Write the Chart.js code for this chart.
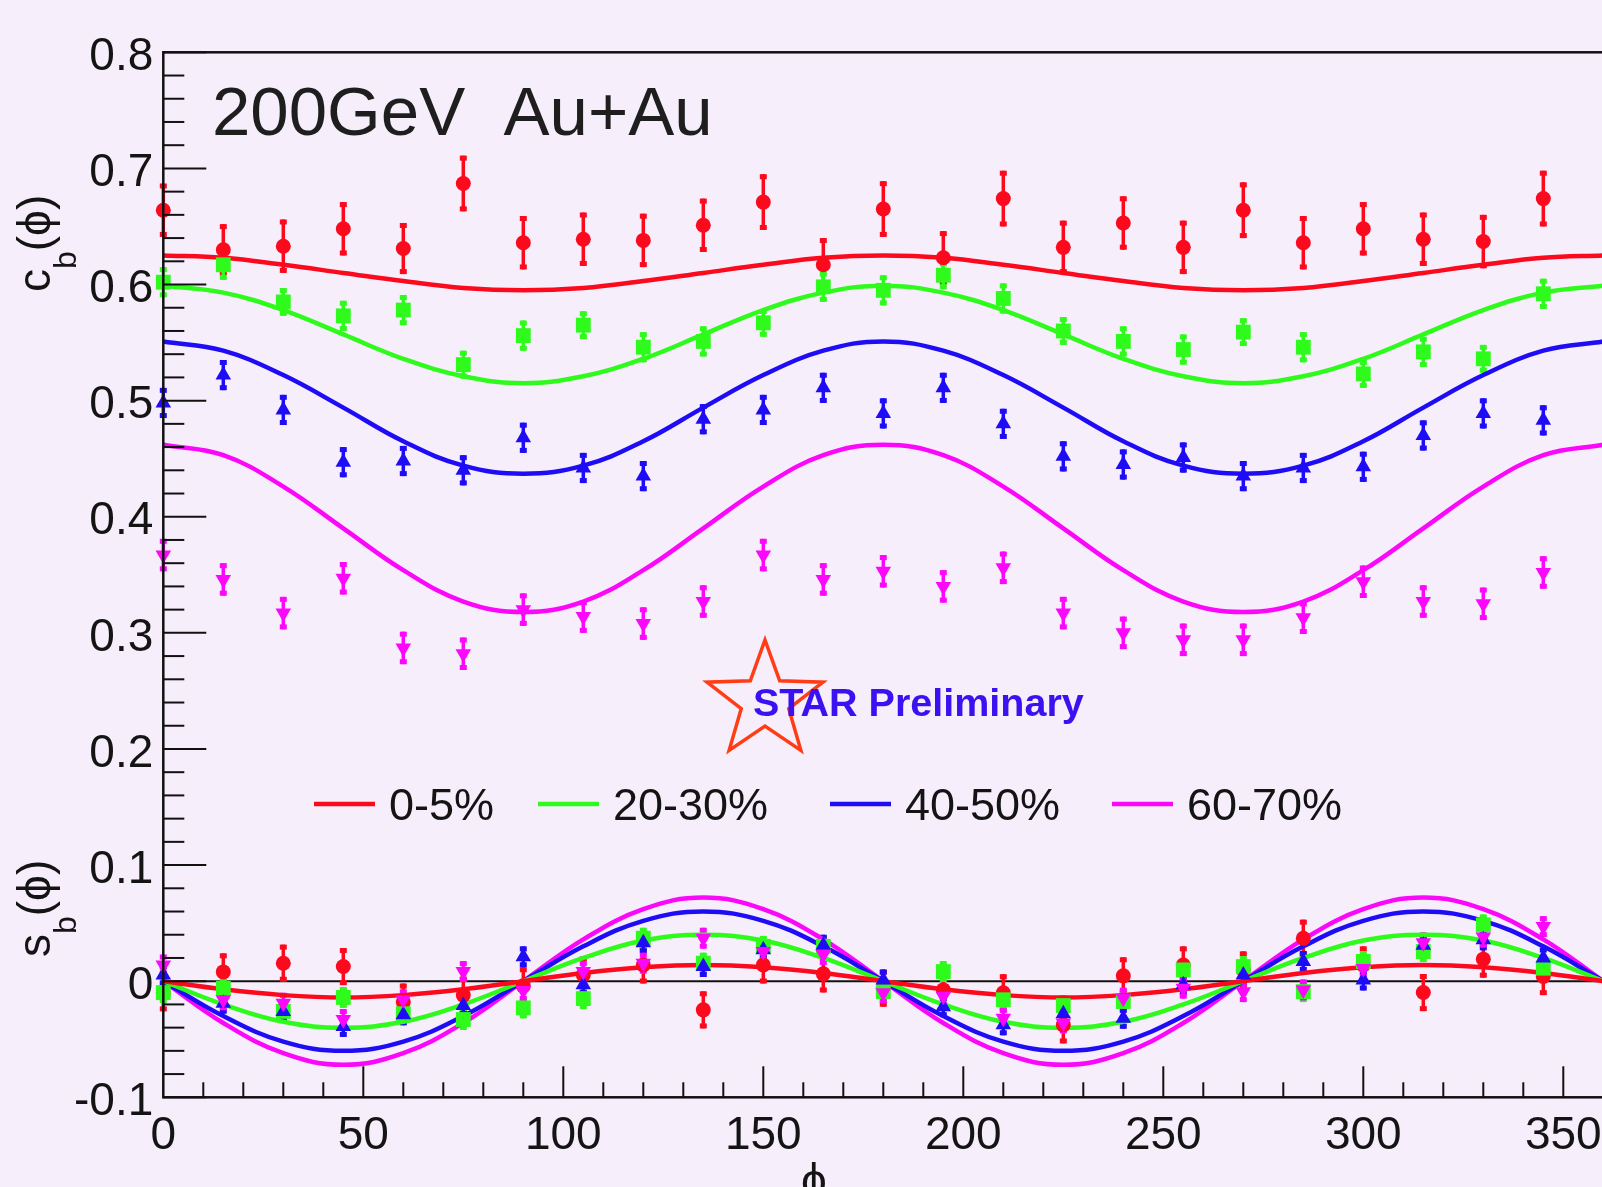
<!DOCTYPE html>
<html><head><meta charset="utf-8">
<script src="https://cdn.jsdelivr.net/npm/chart.js@4.4.1/dist/chart.umd.min.js"></script>
<style>
html,body{margin:0;padding:0;overflow:hidden;background:#f7eefc;}
#wrap{position:relative;width:1620px;height:1187px;}
</style></head><body>
<div id="wrap"><canvas id="c" width="1620" height="1187"></canvas></div>
<script>
// ---------- data ----------
const phi = [0,15,30,45,60,75,90,105,120,135,150,165,180,195,210,225,240,255,270,285,300,315,330,345];
const curvePhi = [0,15,30,45,60,75,90,105,120,135,150,165,180,195,210,225,240,255,270,285,300,315,330,345,360];
const centralities = ['0-5%','20-30%','40-50%','60-70%'];
const xTickValues = [0,50,100,150,200,250,300,350];
const yTickValues = [-0.1,0,0.1,0.2,0.3,0.4,0.5,0.6,0.7,0.8];
const yTickLabels = ['-0.1','0','0.1','0.2','0.3','0.4','0.5','0.6','0.7','0.8'];

const c05    = [0.664,0.630,0.633,0.648,0.631,0.687,0.636,0.639,0.638,0.651,0.671,0.617,0.665,0.623,0.674,0.632,0.653,0.632,0.664,0.636,0.648,0.639,0.637,0.674];
const c05Err = [0.023,0.022,0.023,0.023,0.022,0.024,0.023,0.023,0.023,0.023,0.024,0.023,0.024,0.023,0.024,0.023,0.023,0.023,0.024,0.023,0.023,0.023,0.023,0.024];
const c2030    = [0.602,0.617,0.585,0.573,0.578,0.531,0.556,0.565,0.546,0.551,0.567,0.598,0.595,0.608,0.588,0.560,0.551,0.544,0.559,0.546,0.523,0.542,0.536,0.592];
const c2030Err = [0.013,0.013,0.012,0.013,0.013,0.012,0.013,0.012,0.013,0.013,0.012,0.013,0.013,0.012,0.013,0.012,0.013,0.013,0.012,0.013,0.012,0.013,0.012,0.013];
const c4050    = [0.498,0.522,0.492,0.447,0.448,0.440,0.468,0.442,0.435,0.484,0.492,0.511,0.489,0.511,0.480,0.452,0.445,0.451,0.435,0.442,0.443,0.470,0.489,0.483];
const c4050Err = [0.013,0.013,0.013,0.013,0.013,0.013,0.013,0.013,0.013,0.013,0.013,0.013,0.013,0.013,0.013,0.013,0.013,0.013,0.013,0.013,0.013,0.013,0.013,0.013];
const c6070    = [0.367,0.346,0.317,0.347,0.287,0.282,0.320,0.314,0.308,0.327,0.367,0.346,0.353,0.340,0.356,0.317,0.300,0.294,0.294,0.313,0.344,0.327,0.325,0.352];
const c6070Err = [0.014,0.014,0.014,0.014,0.014,0.014,0.014,0.014,0.014,0.014,0.014,0.014,0.014,0.014,0.014,0.014,0.014,0.014,0.014,0.014,0.014,0.014,0.014,0.014];

const s05    = [-0.010,0.008,0.0155,0.0126,-0.018,-0.012,-0.004,0.0054,0.014,-0.0247,0.014,0.0063,-0.006,-0.0075,-0.010,-0.0376,0.0046,0.014,0.0097,0.037,0.014,-0.0098,0.019,0.004];
const s05Err = [0.016,0.016,0.016,0.016,0.016,0.016,0.016,0.016,0.016,0.016,0.016,0.016,0.016,0.016,0.016,0.016,0.016,0.016,0.016,0.016,0.016,0.016,0.016,0.016];
const s2030    = [-0.0098,-0.006,-0.026,-0.014,-0.028,-0.033,-0.023,-0.015,0.037,0.0155,0.030,0.030,-0.009,0.0083,-0.016,-0.021,-0.0175,0.0097,0.0126,-0.009,0.017,0.0255,0.0485,0.0112];
const s2030Err = [0.009,0.009,0.009,0.009,0.009,0.009,0.009,0.009,0.009,0.009,0.009,0.009,0.009,0.009,0.009,0.009,0.009,0.009,0.009,0.009,0.009,0.009,0.009,0.009];
const s4050    = [0.0054,-0.019,-0.026,-0.039,-0.029,-0.021,0.021,-0.003,0.033,0.0126,0.027,0.031,0.001,-0.022,-0.0376,-0.028,-0.032,-0.003,0.0054,0.017,0.001,0.031,0.0356,0.020];
const s4050Err = [0.009,0.009,0.009,0.009,0.009,0.009,0.009,0.009,0.009,0.009,0.009,0.009,0.009,0.009,0.009,0.009,0.009,0.009,0.009,0.009,0.009,0.009,0.009,0.009];
const s6070    = [0.014,-0.016,-0.019,-0.033,-0.016,0.0083,-0.008,0.0083,0.0155,0.037,0.0255,0.023,-0.010,-0.013,-0.032,-0.036,-0.0146,-0.006,-0.009,-0.0075,0.011,0.033,0.038,0.047];
const s6070Err = [0.009,0.009,0.009,0.009,0.009,0.009,0.009,0.009,0.009,0.009,0.009,0.009,0.009,0.009,0.009,0.009,0.009,0.009,0.009,0.009,0.009,0.009,0.009,0.009];

// fitted curves at every 15 degrees
const cFit05   = [0.625,0.623,0.617,0.610,0.603,0.597,0.595,0.597,0.603,0.610,0.617,0.623,0.625,0.623,0.617,0.610,0.603,0.597,0.595,0.597,0.603,0.610,0.617,0.623,0.625];
const cFit2030 = [0.599,0.593,0.578,0.557,0.536,0.521,0.515,0.521,0.536,0.557,0.578,0.593,0.599,0.593,0.578,0.557,0.536,0.521,0.515,0.521,0.536,0.557,0.578,0.593,0.599];
const cFit4050 = [0.551,0.543,0.522,0.494,0.465,0.444,0.437,0.444,0.465,0.494,0.522,0.543,0.551,0.543,0.522,0.494,0.465,0.444,0.437,0.444,0.465,0.494,0.522,0.543,0.551];
const cFit6070 = [0.462,0.453,0.426,0.390,0.354,0.327,0.318,0.327,0.354,0.390,0.426,0.453,0.462,0.453,0.426,0.390,0.354,0.327,0.318,0.327,0.354,0.390,0.426,0.453,0.462];
const sFit05   = [0,-0.007,-0.012,-0.014,-0.012,-0.007,0,0.007,0.012,0.014,0.012,0.007,0,-0.007,-0.012,-0.014,-0.012,-0.007,0,0.007,0.012,0.014,0.012,0.007,0];
const sFit2030 = [0,-0.020,-0.035,-0.040,-0.035,-0.020,0,0.020,0.035,0.040,0.035,0.020,0,-0.020,-0.035,-0.040,-0.035,-0.020,0,0.020,0.035,0.040,0.035,0.020,0];
const sFit4050 = [0,-0.030,-0.052,-0.060,-0.052,-0.030,0,0.030,0.052,0.060,0.052,0.030,0,-0.030,-0.052,-0.060,-0.052,-0.030,0,0.030,0.052,0.060,0.052,0.030,0];
const sFit6070 = [0,-0.036,-0.062,-0.072,-0.062,-0.036,0,0.036,0.062,0.072,0.062,0.036,0,-0.036,-0.062,-0.072,-0.062,-0.036,0,0.036,0.062,0.072,0.062,0.036,0];

const titleText = '200GeV  Au+Au';
const logoText = 'STAR Preliminary';

// ---------- styling ----------
const FONT = "'Liberation Sans', Arial, Helvetica, sans-serif";
const BG = '#f7eefc';
const TXT = '#141414';
const colors = ['#fb0a1e', '#2efb1c', '#1e0cf5', '#fb08fb'];
const markers = [
  {style:'circle', radius:7.5, rotation:0},
  {style:'rect', radius:10.5, rotation:0},
  {style:'triangle', radius:9, rotation:0},
  {style:'triangle', radius:9, rotation:180}
];
const seriesC = [c05, c2030, c4050, c6070];
const seriesCErr = [c05Err, c2030Err, c4050Err, c6070Err];
const seriesS = [s05, s2030, s4050, s6070];
const seriesSErr = [s05Err, s2030Err, s4050Err, s6070Err];
const fitsC = [cFit05, cFit2030, cFit4050, cFit6070];
const fitsS = [sFit05, sFit2030, sFit4050, sFit6070];

const datasets = [];
for (let k = 0; k < 4; k++) {
  [fitsC[k], fitsS[k]].forEach(f => {
    datasets.push({
      type: 'line', label: centralities[k] + ' fit',
      data: curvePhi.map((p, i) => ({x: p, y: f[i]})),
      borderColor: colors[k], borderWidth: 4.5, pointRadius: 0, tension: 0.4,
      fill: false, showLine: true, clip: false, order: 20 + k
    });
  });
  [[seriesC[k], seriesCErr[k]], [seriesS[k], seriesSErr[k]]].forEach(([v, e]) => {
    datasets.push({
      type: 'scatter', label: centralities[k],
      data: phi.map((p, i) => ({x: p, y: v[i]})),
      errors: e,
      backgroundColor: colors[k], borderColor: colors[k],
      pointStyle: markers[k].style, pointRadius: markers[k].radius,
      pointRotation: markers[k].rotation, pointBorderWidth: 0,
      clip: false, order: 3 - k
    });
  });
}

const decor = {
  id: 'decor',
  beforeDraw(chart) {
    const ctx = chart.ctx;
    ctx.save(); ctx.fillStyle = BG; ctx.fillRect(0, 0, chart.width, chart.height); ctx.restore();
  },
  beforeDatasetsDraw(chart) {
    const ctx = chart.ctx, xs = chart.scales.x, ys = chart.scales.y, a = chart.chartArea;
    ctx.save();
    ctx.strokeStyle = '#111'; ctx.lineWidth = 2;
    const y0 = ys.getPixelForValue(0);
    ctx.beginPath(); ctx.moveTo(a.left, y0); ctx.lineTo(a.right, y0); ctx.stroke();
    chart.data.datasets.forEach(ds => {
      if (!ds.errors) return;
      ctx.strokeStyle = ds.borderColor; ctx.fillStyle = ds.borderColor; ctx.lineWidth = 3.5;
      ds.data.forEach((pt, i) => {
        const x = xs.getPixelForValue(pt.x);
        const yt = ys.getPixelForValue(pt.y + ds.errors[i]);
        const yb = ys.getPixelForValue(pt.y - ds.errors[i]);
        ctx.beginPath(); ctx.moveTo(x, yt); ctx.lineTo(x, yb); ctx.stroke();
        ctx.fillRect(x - 3.5, yt, 7, 5);
        ctx.fillRect(x - 3.5, yb - 5, 7, 5);
      });
    });
    ctx.restore();
  },
  afterDatasetsDraw(chart) {
    const ctx = chart.ctx, xs = chart.scales.x, ys = chart.scales.y, a = chart.chartArea;
    ctx.save();
    ctx.strokeStyle = '#111'; ctx.lineWidth = 2.5;
    ctx.strokeRect(a.left, a.top, a.right - a.left, a.bottom - a.top);
    ctx.lineWidth = 2;
    for (let i = -5; i <= 40; i++) {
      const y = ys.getPixelForValue(i * 0.02);
      const len = (i % 5 === 0) ? 43 : 21;
      ctx.beginPath(); ctx.moveTo(a.left, y); ctx.lineTo(a.left + len, y); ctx.stroke();
    }
    for (let i = 1; i < 36; i++) {
      const x = xs.getPixelForValue(i * 10);
      const len = (i % 5 === 0) ? 31 : 15;
      ctx.beginPath(); ctx.moveTo(x, a.bottom); ctx.lineTo(x, a.bottom - len); ctx.stroke();
    }
    ctx.fillStyle = '#1e1e1e';
    ctx.font = '69px ' + FONT;
    ctx.textAlign = 'left'; ctx.textBaseline = 'alphabetic';
    ctx.fillText(titleText, 212, 135);
    const legX = [314, 538, 830, 1112];
    ctx.font = '45px ' + FONT;
    for (let k = 0; k < 4; k++) {
      ctx.strokeStyle = colors[k]; ctx.lineWidth = 4.5;
      ctx.beginPath(); ctx.moveTo(legX[k], 804); ctx.lineTo(legX[k] + 61, 804); ctx.stroke();
      ctx.fillStyle = TXT;
      ctx.fillText(centralities[k], legX[k] + 75, 820);
    }
    const cx = 765, cy = 701, R = 61, r = 25;
    ctx.beginPath();
    for (let j = 0; j < 10; j++) {
      const ang = -Math.PI / 2 + j * Math.PI / 5;
      const rr = (j % 2 === 0) ? R : r;
      const px = cx + rr * Math.cos(ang), py = cy + rr * Math.sin(ang);
      if (j === 0) ctx.moveTo(px, py); else ctx.lineTo(px, py);
    }
    ctx.closePath();
    ctx.strokeStyle = '#ff3c14'; ctx.lineWidth = 3.5; ctx.lineJoin = 'miter';
    ctx.stroke();
    ctx.fillStyle = '#3a12f2';
    ctx.font = 'bold 39.5px ' + FONT;
    ctx.fillText(logoText, 753, 716);
    ctx.fillStyle = TXT;
    const rot = (main, sub, rest, baseX, startY) => {
      ctx.save();
      ctx.translate(baseX, startY); ctx.rotate(-Math.PI / 2);
      ctx.textAlign = 'left'; ctx.textBaseline = 'alphabetic';
      ctx.font = '46px ' + FONT;
      ctx.fillText(main, 0, 0);
      let adv = ctx.measureText(main).width;
      ctx.font = '32px ' + FONT;
      ctx.fillText(sub, adv, 26);
      adv += ctx.measureText(sub).width;
      ctx.font = '46px ' + FONT;
      ctx.fillText(rest, adv, 0);
      ctx.restore();
    };
    rot('c', 'b', '(ϕ)', 50, 292);
    rot('s', 'b', '(ϕ)', 50, 957);
    ctx.font = '46px ' + FONT;
    ctx.textAlign = 'center';
    ctx.fillText('ϕ', 814, 1196);
    ctx.restore();
  }
};

new Chart(document.getElementById('c'), {
  type: 'scatter',
  data: { datasets },
  options: {
    responsive: false, animation: false, devicePixelRatio: 1,
    layout: { padding: { top: 52.3, right: 16.7, left: 0, bottom: 0 } },
    plugins: { legend: { display: false }, tooltip: { enabled: false } },
    scales: {
      x: {
        type: 'linear', min: 0, max: 360, position: 'bottom',
        afterFit: s => { s.height = 89.7; },
        afterBuildTicks: s => { s.ticks = xTickValues.map(v => ({value: v})); },
        grid: { display: false, drawTicks: false }, border: { display: false },
        ticks: {
          autoSkip: false, maxRotation: 0, padding: 11,
          font: { family: FONT, size: 46 }, color: TXT,
          callback: v => String(v)
        }
      },
      y: {
        type: 'linear', min: -0.1, max: 0.8,
        afterFit: s => { s.width = 163.3; },
        afterBuildTicks: s => { s.ticks = yTickValues.map(v => ({value: v})); },
        grid: { display: false, drawTicks: false }, border: { display: false },
        ticks: {
          autoSkip: false, padding: 10, labelOffset: 5,
          font: { family: FONT, size: 46 }, color: TXT,
          callback: (v, i) => yTickLabels[i]
        }
      }
    }
  },
  plugins: [decor]
});
</script></body></html>
